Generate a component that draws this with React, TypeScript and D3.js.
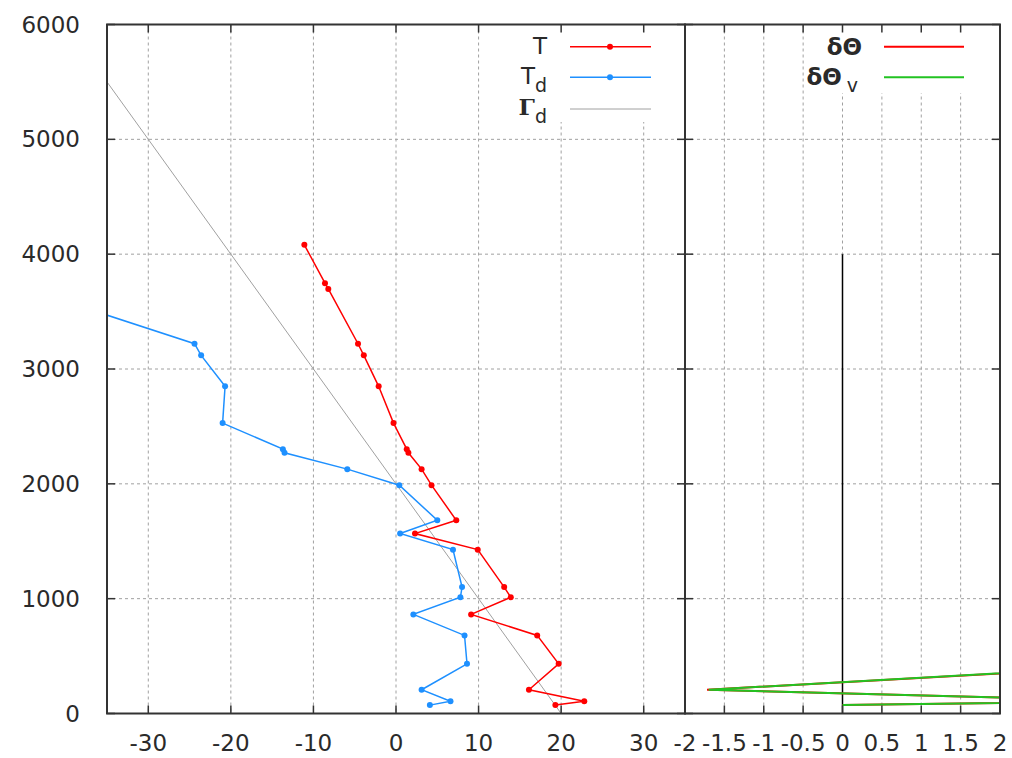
import React from 'react';
import * as d3 from 'd3';

// ---- data ----
const heights = [4081, 3747, 3697, 3220, 3119, 2849, 2529, 2302, 2270, 2128, 1988, 1683, 1567, 1427, 1101, 1012, 863, 680, 433, 207, 107, 73];
const tempT = [-11.1, -8.6, -8.2, -4.6, -3.9, -2.1, -0.3, 1.3, 1.5, 3.1, 4.3, 7.3, 2.3, 9.9, 13.1, 13.9, 9.1, 17.1, 19.7, 16.1, 22.8, 19.3];
const tempTd = [-50, -47, -44.7, -24.4, -23.6, -20.7, -21.0, -13.7, -13.5, -5.9, 0.4, 5.0, 0.5, 6.9, 8.0, 7.8, 2.1, 8.3, 8.6, 3.1, 6.6, 4.1];
const gammaZ = [0, 5500];
const gammaT = [20, -35];

const thetaZ = [75, 107, 207, 433];
const dTheta = [0, 3.85, -1.72, 4.2];
const dThetaV = [0, 3.8, -1.7, 4.1];
const zeroLineZ = [0, 4000];
const zeroLineX = [0, 0];

const xTicksLeft = [-30, -20, -10, 0, 10, 20, 30];
const xTicksRight = [-2, -1.5, -1, -0.5, 0, 0.5, 1, 1.5, 2];
const yTicks = [0, 1000, 2000, 3000, 4000, 5000, 6000];

const W = 1012;
const H = 758;
const top = 24.5;
const bottom = 713.5;
const leftX0 = 107;
const leftX1 = 685;
const rightX1 = 1000;

const FONT = 'DejaVu Sans, sans-serif';
const BORDER = '#333333';
const GRID = '#a0a0a0';
const RED = '#ff0000';
const BLUE = '#1e90ff';
const GREEN = '#22c322';
const TEXT = '#2a2a2a';

export default function App() {
  const y = d3.scaleLinear().domain([0, 6000]).range([bottom, top]);
  const xl = d3.scaleLinear().domain([-35, 35]).range([leftX0, leftX1]);
  const xr = d3.scaleLinear().domain([-2, 2]).range([leftX1, rightX1]);

  const lineL = d3.line<[number, number]>().x(d => xl(d[0])).y(d => y(d[1]));
  const lineR = d3.line<[number, number]>().x(d => xr(d[0])).y(d => y(d[1]));

  const tPts: [number, number][] = heights.map((h, i) => [tempT[i], h]);
  const tdPts: [number, number][] = heights.map((h, i) => [tempTd[i], h]);
  const gPts: [number, number][] = gammaZ.map((h, i) => [gammaT[i], h]);
  const thPts: [number, number][] = thetaZ.map((h, i) => [dTheta[i], h]);
  const thvPts: [number, number][] = thetaZ.map((h, i) => [dThetaV[i], h]);
  const zPts: [number, number][] = zeroLineZ.map((h, i) => [zeroLineX[i], h]);

  const tick = 8;

  return (
    <svg width={W} height={H} style={{ position: 'absolute', left: 0, top: 0, background: '#fff' }}>
      <defs>
        <clipPath id="clipL">
          <rect x={leftX0} y={top} width={leftX1 - leftX0} height={bottom - top} />
        </clipPath>
        <clipPath id="clipR">
          <rect x={leftX1} y={top} width={rightX1 - leftX1} height={bottom - top} />
        </clipPath>
      </defs>
      <rect x={0} y={0} width={W} height={H} fill="#fff" />

      {/* grid */}
      <g stroke={GRID} strokeWidth={1} strokeDasharray="3,3">
        {xTicksLeft.map(t => (
          <line key={'gx' + t} x1={xl(t)} x2={xl(t)} y1={top} y2={bottom} />
        ))}
        {yTicks.filter(t => t > 0 && t < 6000).map(t => (
          <line key={'gy' + t} x1={leftX0} x2={leftX1} y1={y(t)} y2={y(t)} />
        ))}
        {xTicksRight.filter(t => t > -2 && t < 2).map(t => (
          <line key={'grx' + t} x1={xr(t)} x2={xr(t)} y1={top} y2={bottom} />
        ))}
        {yTicks.filter(t => t > 0 && t < 6000).map(t => (
          <line key={'gry' + t} x1={leftX1} x2={rightX1} y1={y(t)} y2={y(t)} />
        ))}
      </g>

      {/* opaque legend boxes */}
      <rect x={495} y={top} width={leftX1 - 495} height={122 - top} fill="#fff" />
      <rect x={808} y={top} width={rightX1 - 808} height={93 - top} fill="#fff" />

      {/* left panel data */}
      <g clipPath="url(#clipL)">
        <path d={lineL(gPts) || ''} fill="none" stroke={GRID} strokeWidth={1} />
        <path d={lineL(tdPts) || ''} fill="none" stroke={BLUE} strokeWidth={1.5} />
        {tdPts.map((p, i) => (
          <circle key={'td' + i} cx={xl(p[0])} cy={y(p[1])} r={3} fill={BLUE} />
        ))}
        <path d={lineL(tPts) || ''} fill="none" stroke={RED} strokeWidth={1.5} />
        {tPts.map((p, i) => (
          <circle key={'t' + i} cx={xl(p[0])} cy={y(p[1])} r={3} fill={RED} />
        ))}
      </g>

      {/* right panel data */}
      <g clipPath="url(#clipR)">
        <path d={lineR(zPts) || ''} fill="none" stroke="#000" strokeWidth={1.5} />
        <path d={lineR(thPts) || ''} fill="none" stroke={RED} strokeWidth={2} />
        <path d={lineR(thvPts) || ''} fill="none" stroke={GREEN} strokeWidth={2} />
      </g>

      {/* ticks */}
      <g stroke={BORDER} strokeWidth={1.5}>
        {xTicksLeft.map(t => (
          <g key={'tx' + t}>
            <line x1={xl(t)} x2={xl(t)} y1={bottom} y2={bottom - tick} />
            <line x1={xl(t)} x2={xl(t)} y1={top} y2={top + tick} />
          </g>
        ))}
        {xTicksRight.map(t => (
          <g key={'trx' + t}>
            <line x1={xr(t)} x2={xr(t)} y1={bottom} y2={bottom - tick} />
            <line x1={xr(t)} x2={xr(t)} y1={top} y2={top + tick} />
          </g>
        ))}
        {yTicks.map(t => (
          <g key={'ty' + t}>
            <line x1={leftX0} x2={leftX0 + tick} y1={y(t)} y2={y(t)} />
            <line x1={leftX1} x2={leftX1 - tick} y1={y(t)} y2={y(t)} />
            <line x1={leftX1} x2={leftX1 + tick} y1={y(t)} y2={y(t)} />
            <line x1={rightX1} x2={rightX1 - tick} y1={y(t)} y2={y(t)} />
          </g>
        ))}
      </g>

      {/* borders */}
      <rect x={leftX0} y={top} width={leftX1 - leftX0} height={bottom - top} fill="none" stroke={BORDER} strokeWidth={2} />
      <rect x={leftX1} y={top} width={rightX1 - leftX1} height={bottom - top} fill="none" stroke={BORDER} strokeWidth={2} />

      {/* tick labels */}
      <g fontFamily={FONT} fontSize={23} fill={TEXT}>
        {yTicks.map(t => (
          <text key={'ly' + t} x={80} y={y(t)} textAnchor="end" dominantBaseline="central">{t}</text>
        ))}
        {xTicksLeft.map(t => (
          <text key={'lx' + t} x={xl(t)} y={751} textAnchor="middle">{t}</text>
        ))}
        {xTicksRight.map(t => (
          <text key={'lrx' + t} x={xr(t)} y={751} textAnchor="middle">{t}</text>
        ))}
      </g>

      {/* left legend */}
      <g fontFamily={FONT} fontSize={23} fill={TEXT}>
        <text x={547} y={53.5} textAnchor="end">T</text>
        <text x={547} y={84} textAnchor="end">T<tspan fontSize={19} dy={8}>d</tspan></text>
        <text x={547} y={115} textAnchor="end"><tspan fontFamily="DejaVu Serif, serif" fontWeight="bold">Γ</tspan><tspan fontSize={19} dy={8}>d</tspan></text>
      </g>
      <line x1={570} x2={651} y1={46.7} y2={46.7} stroke={RED} strokeWidth={1.5} />
      <circle cx={610} cy={46.7} r={3} fill={RED} />
      <line x1={570} x2={651} y1={77.3} y2={77.3} stroke={BLUE} strokeWidth={1.5} />
      <circle cx={610} cy={77.3} r={3} fill={BLUE} />
      <line x1={570} x2={651} y1={109} y2={109} stroke={GRID} strokeWidth={1} />

      {/* right legend */}
      <g fontFamily={FONT} fontWeight="bold" fontSize={23} fill={TEXT}>
        <text x={862} y={54.5} textAnchor="end">δΘ</text>
        <text x={858} y={85} textAnchor="end">δΘ<tspan fontWeight="normal" fontSize={19} dx={5} dy={7}>v</tspan></text>
      </g>
      <line x1={884} x2={964} y1={46.7} y2={46.7} stroke={RED} strokeWidth={2} />
      <line x1={884} x2={964} y1={77.3} y2={77.3} stroke={GREEN} strokeWidth={2} />
    </svg>
  );
}
